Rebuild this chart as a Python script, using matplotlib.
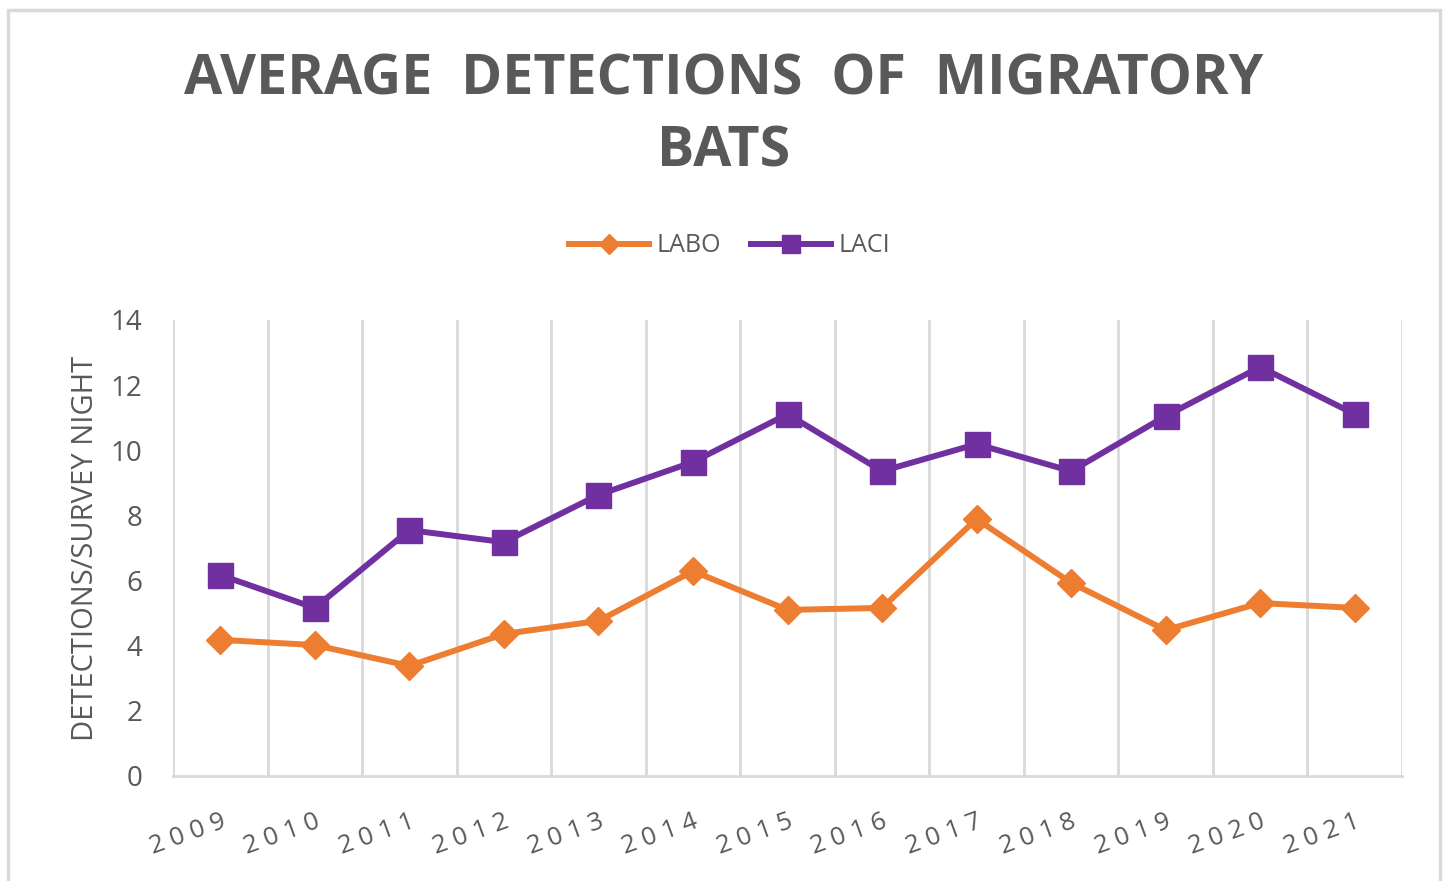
import numpy as np
import matplotlib
matplotlib.use("Agg")
import matplotlib.pyplot as plt
from matplotlib.patches import Rectangle

years = ["2009", "2010", "2011", "2012", "2013", "2014", "2015",
         "2016", "2017", "2018", "2019", "2020", "2021"]
labo = [4.18, 4.02, 3.38, 4.36, 4.76, 6.29, 5.10, 5.16, 7.89, 5.93, 4.48, 5.31, 5.16]
laci = [6.17, 5.16, 7.55, 7.18, 8.63, 9.64, 11.11, 9.36, 10.19, 9.36, 11.05, 12.56, 11.11]

text_col = "#595959"
grid_col = "#D9D9D9"
plt.rcParams['font.family'] = ['Open Sans', 'DejaVu Sans']

fig = plt.figure(figsize=(14.47, 8.81), dpi=100)
ax = fig.add_axes([173/1447, 1 - 776/881, (1402 - 173)/1447, (776 - 320)/881])

# outer chart frame
fig.patches.append(Rectangle((8/1447, -0.05), (1440 - 8)/1447, 1.05 - 10/881,
                             transform=fig.transFigure, fill=False,
                             edgecolor=grid_col, linewidth=2.5))

x = np.arange(len(years))
ax.plot(x, labo, color="#ED7D31", lw=4.3, marker="D", ms=14, label="LABO", zorder=3)
ax.plot(x, laci, color="#7030A0", lw=4.3, marker="s", ms=18, label="LACI", zorder=3)

ax.set_xlim(-0.5, len(years) - 0.5)
ax.set_ylim(0, 14)
ax.set_yticks(range(0, 15, 2))
ax.set_xticks(x)
# Excel-style spaced digits
ax.set_xticklabels([" ".join(y) for y in years], rotation=20, ha="right",
                   rotation_mode="anchor", fontsize=18.5, color=text_col)
ax.set_xticks(np.arange(-0.5, len(years), 1), minor=True)
ax.grid(which="minor", axis="x", color=grid_col, lw=2)
ax.tick_params(axis="x", which="both", length=0, pad=24)
ax.tick_params(axis="y", length=0, labelsize=20, labelcolor=text_col, pad=22)

for s in ["top", "right", "left"]:
    ax.spines[s].set_visible(False)
ax.spines["bottom"].set_color(grid_col)
ax.spines["bottom"].set_linewidth(2)

ax.set_ylabel("DETECTIONS/SURVEY NIGHT", fontsize=21, color=text_col, labelpad=8)

fig.text(0.5, 1 - 80/881, "AVERAGE  DETECTIONS  OF  MIGRATORY",
         ha="center", va="center", fontsize=40, fontweight="bold", color=text_col)
fig.text(0.5, 1 - 152/881, "BATS", ha="center", va="center",
         fontsize=40, fontweight="bold", color=text_col)

leg = fig.legend(loc="center", bbox_to_anchor=(730/1447, 1 - 246/881), ncol=2,
                 frameon=False, fontsize=18, handlelength=3.2, handletextpad=0.3,
                 columnspacing=1.2, markerscale=0.75)
for t in leg.get_texts():
    t.set_color(text_col)

fig.savefig("out.png", dpi=100)
